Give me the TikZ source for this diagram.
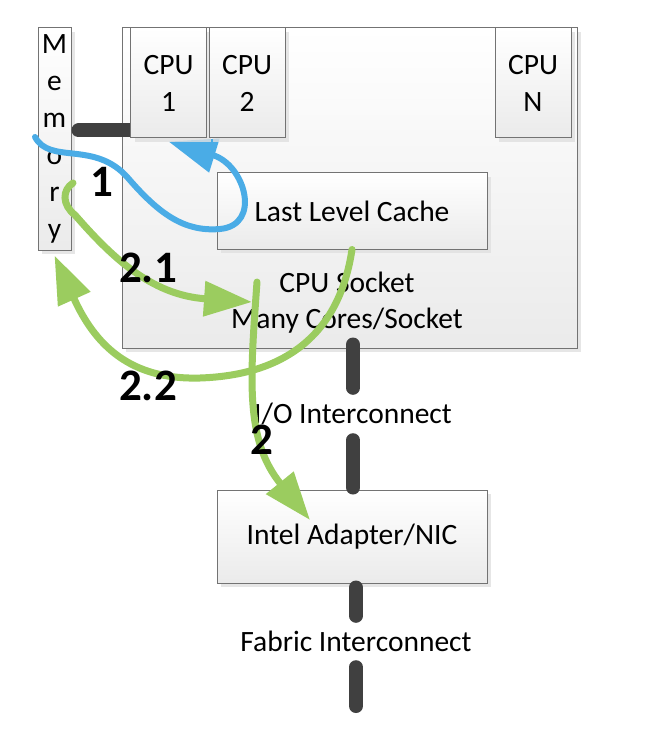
\documentclass[tikz,border=0pt]{standalone}
\usepackage{fontspec}
\setmainfont{Carlito}
\usetikzlibrary{arrows.meta,shadows}
\definecolor{flowblue}{RGB}{74,172,230}
\definecolor{flowgreen}{RGB}{155,204,95}
\definecolor{busgray}{RGB}{64,64,64}
\pgfdeclarelayer{back}
\pgfsetlayers{back,main}

\begin{document}
\begin{tikzpicture}[x=1pt,y=-1pt,
    box/.style={draw=black!55,line width=1pt,top color=white,bottom color=black!8,
      drop shadow={shadow xshift=4pt,shadow yshift=-4pt,fill=black!12,opacity=.8},
      inner sep=0pt,font=\fontsize{29.5}{37}\selectfont,align=center},
    txt/.style={inner sep=0pt,font=\fontsize{29.5}{36}\selectfont,align=center},
    bus/.style={line width=14pt,busgray,line cap=round},
    flow/.style={line width=7pt,line cap=round,-{Triangle[length=48pt,width=34pt]}},
    numlbl/.style={inner sep=0pt,font=\fontsize{45}{48}\selectfont\bfseries}]
    \useasboundingbox (0,0) rectangle (650,738);
    \begin{pgfonlayer}{back}
      \fill[white] (0,0) rectangle (650,738);
      \node[box,minimum width=455pt,minimum height=320pt] (socket) at (349.5,188) {};
      \node[box,minimum width=270pt,minimum height=76pt] (llc) at (352,211) {Last Level Cache};
      \node[box,minimum width=33pt,minimum height=222pt] (mem) at (54.5,139) {M\\e\\m\\o\\r\\y};
      \node[txt] (socklbl) at (347,303) {CPU Socket\\Many Cores/Socket};
    \end{pgfonlayer}
    \node[box,minimum width=76pt,minimum height=110pt] (cpu1) at (168.5,83) {CPU\\1};
    \node[box,minimum width=76pt,minimum height=110pt] (cpu2) at (247,83) {CPU\\2};
    \node[box,minimum width=76pt,minimum height=110pt] (cpun) at (533,83) {CPU\\N};
    \node[box,minimum width=270pt,minimum height=93pt] (nic) at (352,536.5) {Intel Adapter/NIC};
    \node[txt,minimum height=52pt] (io) at (353,414) {I/O Interconnect};
    \node[txt,minimum height=51pt] (fabric) at (356,641.5) {Fabric Interconnect};
    \coordinate (fabricend) at (356,706);
    \coordinate (memout) at (35,137);
    \coordinate (misspt) at (73,183);
    \coordinate (sockpt) at (252,302);
    \coordinate (iostart) at (257,282);
    \coordinate (nicpt) at (310,520);
    \begin{pgfonlayer}{back}
      \draw[bus] ([xshift=7pt,yshift=8pt]mem.east |- cpu1.south) -- ([yshift=8pt]cpu1.south west);
      \draw[flow,flowblue,line width=6pt] (memout) .. controls (50,165) and (95,140) .. (128,178)
        .. controls (160,215) and (185,232) .. (220,229)
        .. controls (262,225) and (245,165) .. ([yshift=-3pt]cpu1.south);
    \end{pgfonlayer}
    \draw[bus] ([yshift=4pt]socket.south -| io) -- (io);
    \draw[bus] (io) -- ([yshift=2pt]nic.north -| io);
    \draw[bus] ([yshift=-4pt]nic.south -| fabric) -- (fabric);
    \draw[bus] (fabric) -- (fabricend);
    \draw[flow,flowgreen] (misspt) .. controls (62,190) and (62,205) .. (75,215)
      .. controls (110,255) and (150,295) .. (sockpt);
    \draw[flow,flowgreen] (llc.south) .. controls (340,330) and (290,375) .. (200,378)
      .. controls (130,380) and (95,345) .. ([yshift=-5pt]mem.south);
    \draw[flow,flowgreen] (iostart) .. controls (250,380) and (245,440) .. (nicpt);
    \node[numlbl] (n1) at (102,182) {1};
    \node[numlbl] (n21) at (148,268) {2.1};
    \node[numlbl] (n22) at (148,386) {2.2};
    \node[numlbl] (n2) at (262,440) {2};
\end{tikzpicture}
\end{document}
